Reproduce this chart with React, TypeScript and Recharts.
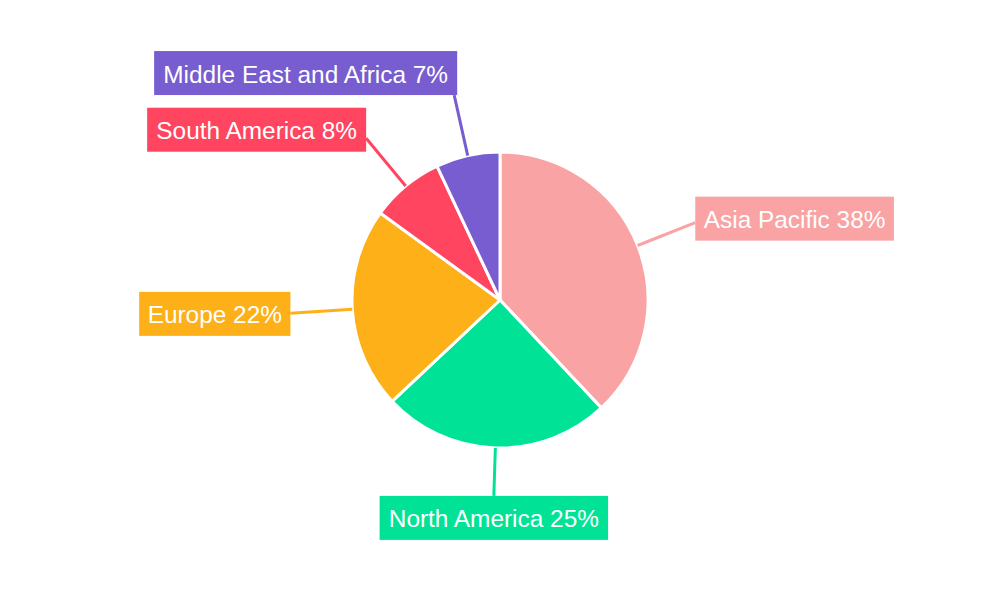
import { PieChart, Pie, Cell } from 'recharts';

const regions = ['Asia Pacific', 'North America', 'Europe', 'South America', 'Middle East and Africa'];
const shares = [38, 25, 22, 8, 7];
const colors = ['#F9A3A4', '#00E396', '#FEB019', '#FF4560', '#775DD0'];

const data = regions.map((name, i) => ({ name, value: shares[i] }));

const RADIAN = Math.PI / 180;
const FONT = '24.4px "Liberation Sans", Arial, sans-serif';
const BOX_H = 44;
const PAD = 8.5;

let ctx: CanvasRenderingContext2D | null = null;
const measure = (text: string) => {
    if (!ctx) ctx = document.createElement('canvas').getContext('2d');
    if (!ctx) return text.length * 12;
    ctx.font = FONT;
    return ctx.measureText(text).width;
};

const renderLabel = (props: any) => {
    const { cx, cy, midAngle, outerRadius, percent, name, index } = props;
    const color = colors[index];
    const cos = Math.cos(-midAngle * RADIAN);
    const sin = -Math.sin(-midAngle * RADIAN); // positive = up
    const sx = cx + outerRadius * cos;
    const sy = cy - outerRadius * sin;
    const r = sin < -0.9 ? outerRadius + 48 : outerRadius + 62;
    const ex = cx + r * cos;
    const ey = cy - r * sin;

    const text = `${name} ${Math.round(percent * 100)}%`;
    const w = measure(text) + PAD * 2;
    const vertical = Math.abs(sin) > 0.9;

    let bx: number;
    if (Math.abs(cos) < 0.1) bx = ex - w / 2;
    else if (cos > 0) bx = ex;
    else bx = ex - w + (vertical ? 3 : 0);

    let by: number;
    if (sin > 0.9) by = ey - BOX_H;
    else if (sin < -0.9) by = ey;
    else by = ey - BOX_H / 2 - (sin * BOX_H) / 4;

    return (
        <g key={`label-${index}`}>
            <line x1={sx} y1={sy} x2={ex} y2={ey} stroke={color} strokeWidth={3} />
            <rect x={bx} y={by} width={w} height={BOX_H} fill={color} />
            <text
                x={bx + w / 2}
                y={by + BOX_H / 2 + 1}
                fill="#ffffff"
                textAnchor="middle"
                dominantBaseline="central"
                style={{ font: FONT }}
            >
                {text}
            </text>
        </g>
    );
};

export default function App() {
    return (
        <div style={{ position: 'fixed', left: 0, top: 0, width: 1000, height: 600, background: '#fff' }}>
            <PieChart width={1000} height={600} margin={{ top: 0, right: 0, bottom: 0, left: 0 }}>
                <Pie
                    data={data}
                    dataKey="value"
                    nameKey="name"
                    cx={500}
                    cy={300}
                    outerRadius={148}
                    startAngle={90}
                    endAngle={-270}
                    stroke="#ffffff"
                    strokeWidth={3}
                    labelLine={false}
                    label={renderLabel}
                    isAnimationActive={false}
                >
                    {data.map((_entry, index) => (
                        <Cell key={`cell-${index}`} fill={colors[index]} />
                    ))}
                </Pie>
            </PieChart>
        </div>
    );
}
